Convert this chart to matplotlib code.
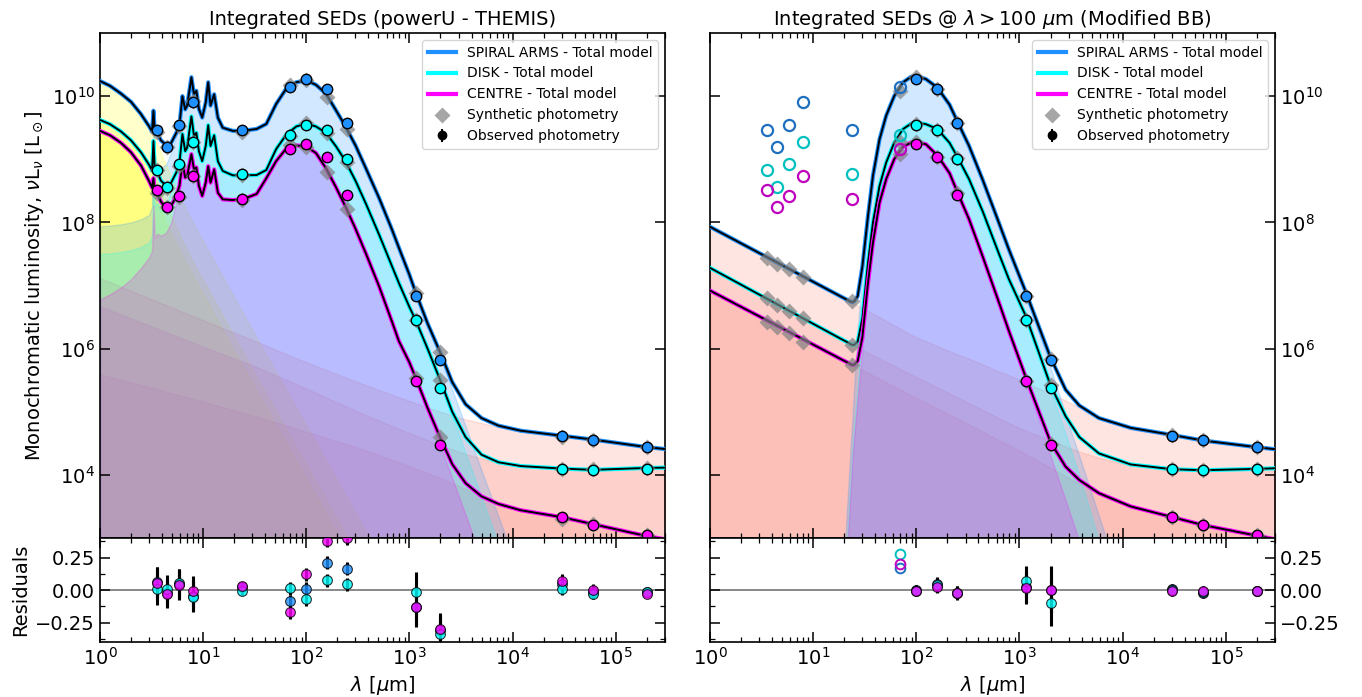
import numpy as np
import matplotlib.pyplot as plt
from matplotlib.lines import Line2D
from matplotlib.ticker import LogLocator, NullLocator, NullFormatter, AutoMinorLocator

# region colours
C_ARMS, C_DISK, C_CENTRE = "dodgerblue", "cyan", "magenta"
OPEN_ARMS, OPEN_DISK, OPEN_CENTRE = "#1f6fc0", "c", "m"

# ---------------- photometry (all luminosities are log10(nuL_nu / Lsun)) ----------------
phot_lam = [3.6, 4.5, 5.8, 8.0, 24, 70, 100, 160, 250, 1150, 2000, 3e4, 6e4, 2e5]
phot_err = [0.12, 0.11, 0.11, 0.12, 0.03, 0.05, 0.05, 0.05, 0.05, 0.15, 0.12, 0.05, 0.04, 0.02]

obs_arms = [9.46, 9.20, 9.55, 9.91, 9.46, 10.14, 10.27, 10.12, 9.57, 6.84, 5.82, 4.62, 4.55, 4.44]
obs_disk = [8.83, 8.56, 8.93, 9.27, 8.76, 9.39, 9.55, 9.46, 9.01, 6.46, 5.38, 4.09, 4.07, 4.10]
obs_centre = [8.51, 8.24, 8.42, 8.74, 8.37, 9.17, 9.25, 9.03, 8.44, 5.49, 4.48, 3.33, 3.21, 3.04]

syn_arms_l = [9.43, 9.19, 9.52, 9.93, 9.44, 10.17, 10.25, 9.99, 9.48, 6.88, 5.94, 4.60, 4.56, 4.44]
syn_disk_l = [8.83, 8.55, 8.90, 9.28, 8.75, 9.37, 9.575, 9.41, 8.96, 6.46, 5.50, 4.10, 4.09, 4.11]
syn_centre_l = [8.47, 8.24, 8.40, 8.735, 8.35, 9.22, 9.19, 8.80, 8.22, 5.54, 4.60, 3.30, 3.22, 3.04]

syn_arms_r = [7.43, 7.34, 7.26, 7.14, 6.75, 10.08, 10.30, 10.12, 9.58, 6.84, 5.84, 4.63, 4.55, 4.44]
syn_disk_r = [6.80, 6.69, 6.60, 6.49, 6.06, 9.27, 9.56, 9.47, 9.02, 6.46, 5.42, 4.09, 4.07, 4.10]
syn_centre_r = [6.43, 6.34, 6.25, 6.11, 5.74, 9.08, 9.27, 9.03, 8.46, 5.49, 4.49, 3.33, 3.21, 3.04]

# residuals, powerU - THEMIS fit (all bands)
res_arms_l = [0.06, -0.02, 0.05, -0.045, 0.02, -0.086, 0.008, 0.209, 0.163, -0.13, -0.31, 0.05, -0.015, -0.015]
res_disk_l = [0.008, 0.008, 0.053, -0.053, -0.005, 0.013, -0.072, 0.075, 0.043, -0.013, -0.34, 0.008, -0.032, -0.013]
res_centre_l = [0.056, -0.03, 0.035, -0.01, 0.03, -0.17, 0.12, 0.38, 0.40, -0.134, -0.30, 0.07, 0.003, -0.027]

# residuals, modified BB fit (70 micron and longer; 70 micron not fitted)
res_arms_r = [0.166, 0.0, 0.047, -0.025, 0.02, 0.0, 0.01, -0.02, -0.01]
res_disk_r = [0.276, -0.005, 0.04, -0.02, 0.068, -0.10, 0.0, -0.015, -0.008]
res_centre_r = [0.197, -0.005, 0.026, -0.02, 0.016, 0.003, -0.005, -0.01, -0.008]
err_r = [0.04, 0.05, 0.05, 0.12, 0.18, 0.04, 0.04, 0.02]

# ---------------- powerU - THEMIS model curves ----------------
lam_l = [1, 1.25, 1.6, 2, 2.5, 3, 3.2, 3.3, 3.4, 3.6, 3.9, 4.4, 4.9, 5.5, 5.9, 6.3, 6.7, 7.0, 7.7, 8.15,
         8.6, 9.1, 9.8, 10.6, 11.2, 11.8, 12.8, 13.9, 15.5, 19.4, 24, 33, 41, 51, 64, 80, 100, 124, 155, 195,
         240, 300, 380, 510, 680, 790, 1000, 1150, 1500, 2000, 2600, 3500, 5000, 7300, 12000, 30000, 60000,
         200000, 300000]

arms_total_l = [10.24, 10.164, 10.04, 9.91, 9.715, 9.52, 9.44, 9.77, 9.45, 9.41, 9.30, 9.22, 9.26, 9.42, 9.55,
                10.0, 9.79, 9.85, 10.30, 10.03, 10.085, 9.80, 9.66, 9.90, 10.22, 9.85, 10.03, 9.66, 9.50, 9.45,
                9.45, 9.48, 9.56, 9.875, 10.12, 10.22, 10.25, 10.18, 10.04, 9.77, 9.52, 9.22, 8.85, 8.38, 7.88,
                7.60, 7.17, 6.89, 6.40, 5.93, 5.47, 5.12, 4.90, 4.78, 4.70, 4.62, 4.56, 4.44, 4.41]
disk_total_l = [9.624, 9.556, 9.44, 9.30, 9.11, 8.91, 8.82, 9.29, 8.84, 8.80, 8.66, 8.58, 8.63, 8.79, 8.95,
                9.40, 9.13, 9.185, 9.68, 9.37, 9.42, 9.13, 8.97, 9.21, 9.54, 9.21, 9.38, 8.97, 8.815, 8.746,
                8.746, 8.75, 8.83, 9.16, 9.39, 9.52, 9.565, 9.52, 9.42, 9.20, 8.97, 8.66, 8.29, 7.80, 7.30,
                7.04, 6.66, 6.45, 6.00, 5.49, 5.00, 4.60, 4.32, 4.20, 4.14, 4.10, 4.08, 4.11, 4.115]
centre_total_l = [9.45, 9.381, 9.26, 9.11, 8.90, 8.65, 8.55, 8.70, 8.48, 8.45, 8.33, 8.21, 8.26, 8.42, 8.58,
                  8.95, 8.71, 8.735, 9.08, 8.84, 8.87, 8.58, 8.42, 8.63, 8.89, 8.63, 8.84, 8.47, 8.365, 8.354,
                  8.365, 8.45, 8.70, 8.97, 9.17, 9.22, 9.20, 9.10, 8.86, 8.55, 8.25, 7.90, 7.50, 6.98, 6.42,
                  6.12, 5.78, 5.54, 5.06, 4.58, 4.17, 3.87, 3.66, 3.54, 3.44, 3.33, 3.22, 3.03, 2.98]

# stellar component (values of 1 lie far below the plotted range)
arms_star_l = [10.24, 10.164, 10.04, 9.91, 9.715, 9.50, 9.42, 9.38, 9.33, 9.24, 9.10, 8.90, 8.72, 8.54, 8.43,
               8.33, 8.24, 8.17, 8.04, 7.96, 7.90, 7.82, 7.73, 7.63, 7.56, 7.49, 7.38, 7.28, 7.14, 6.85, 6.58,
               6.17, 5.90, 5.63, 5.34, 5.06, 4.78, 4.51, 4.23, 3.94, 3.68, 3.40, 3.10, 2.73, 2.37, 2.18,
               1, 1, 1, 1, 1, 1, 1, 1, 1, 1, 1, 1, 1]
disk_star_l = [9.624, 9.556, 9.44, 9.30, 9.10, 8.88, 8.80, 8.76, 8.71, 8.62, 8.48, 8.28, 8.10, 7.92, 7.81,
               7.71, 7.62, 7.55, 7.42, 7.34, 7.28, 7.20, 7.11, 7.01, 6.94, 6.87, 6.76, 6.66, 6.52, 6.23, 5.96,
               5.55, 5.28, 5.01, 4.72, 4.44, 4.16, 3.89, 3.61, 3.32, 3.06, 2.78, 2.48, 1, 1, 1,
               1, 1, 1, 1, 1, 1, 1, 1, 1, 1, 1, 1, 1]
centre_star_l = [9.45, 9.38, 9.26, 9.10, 8.89, 8.64, 8.53, 8.50, 8.40, 8.33, 8.18, 7.98, 7.82, 7.66, 7.56,
                 7.47, 7.39, 7.33, 7.20, 7.12, 7.06, 6.98, 6.89, 6.79, 6.72, 6.65, 6.54, 6.44, 6.30, 6.01, 5.74,
                 5.33, 5.06, 4.79, 4.50, 4.22, 3.94, 3.67, 3.39, 3.10, 2.84, 1, 1, 1, 1, 1,
                 1, 1, 1, 1, 1, 1, 1, 1, 1, 1, 1, 1, 1]

# THEMIS dust component
arms_dust_l = [7.94, 7.95, 7.97, 8.00, 8.05, 8.12, 8.25, 9.55, 8.82, 8.92, 8.87, 8.92, 9.12, 9.36, 9.52,
               10.0, 9.79, 9.85, 10.30, 10.03, 10.085, 9.80, 9.66, 9.90, 10.22, 9.85, 10.03, 9.66, 9.50, 9.45,
               9.45, 9.48, 9.56, 9.875, 10.12, 10.22, 10.25, 10.18, 10.04, 9.77, 9.52, 9.22, 8.85, 8.38, 7.88,
               7.60, 7.16, 6.88, 6.38, 5.87, 5.35, 4.77, 4.07, 3.34, 2.37, 1, 1, 1, 1]
disk_dust_l = [7.50, 7.51, 7.53, 7.56, 7.61, 7.68, 7.80, 9.14, 8.25, 8.31, 8.17, 8.28, 8.49, 8.73, 8.92,
               9.40, 9.13, 9.185, 9.68, 9.37, 9.42, 9.13, 8.97, 9.21, 9.54, 9.21, 9.38, 8.97, 8.815, 8.746,
               8.746, 8.75, 8.83, 9.16, 9.39, 9.52, 9.565, 9.52, 9.42, 9.20, 8.97, 8.66, 8.29, 7.80, 7.30,
               7.04, 6.65, 6.44, 5.97, 5.45, 4.93, 4.35, 3.65, 2.91, 1, 1, 1, 1, 1]
centre_dust_l = [6.78, 6.86, 6.97, 7.10, 7.28, 7.45, 7.55, 8.27, 7.75, 7.82, 7.79, 7.84, 8.00, 8.32, 8.52,
                 8.95, 8.71, 8.735, 9.08, 8.84, 8.87, 8.58, 8.42, 8.63, 8.89, 8.63, 8.84, 8.47, 8.365, 8.354,
                 8.365, 8.45, 8.70, 8.97, 9.17, 9.22, 9.20, 9.10, 8.86, 8.55, 8.25, 7.90, 7.50, 6.98, 6.42,
                 6.12, 5.76, 5.52, 5.00, 4.46, 3.95, 3.37, 2.67, 1, 1, 1, 1, 1, 1]

# free-free + synchrotron component
lam_radio = [1, 3.2, 10, 32, 85, 316, 790, 2000, 3500, 7300, 12000, 30000, 60000, 200000, 300000]
arms_radio = [7.12, 6.78, 6.45, 6.12, 5.83, 5.47, 5.23, 5.00, 4.88, 4.76, 4.69, 4.62, 4.56, 4.44, 4.41]
disk_radio = [6.67, 6.35, 6.03, 5.72, 5.42, 5.00, 4.73, 4.47, 4.33, 4.19, 4.14, 4.10, 4.08, 4.11, 4.115]
centre_radio = [5.59, 5.38, 5.16, 4.93, 4.72, 4.43, 4.20, 3.95, 3.78, 3.53, 3.44, 3.33, 3.22, 3.03, 2.98]

# ---------------- modified BB + power law model curves ----------------
lam_r = [1, 3, 10, 19, 21, 23, 24, 25, 27, 30, 34, 38, 44, 51, 61, 74, 89, 100, 124, 160, 210, 250, 325,
         440, 630, 790, 1150, 2000, 2800, 3800, 5900, 12000, 30000, 60000, 200000, 300000]

arms_total_r = [7.93, 7.515, 7.06, 6.817, 6.78, 6.745, 6.735, 6.75, 6.83, 7.30, 8.10, 8.74, 9.317, 9.69, 10.0,
                10.217, 10.307, 10.32, 10.27, 10.135, 9.865, 9.60, 9.21, 8.675, 8.0, 7.57, 6.90, 5.86, 5.35,
                5.10, 4.90, 4.745, 4.634, 4.545, 4.439, 4.407]
arms_bb_r = [1, 1, 1, 2.0, 3.3, 4.4, 4.9, 5.4, 6.3, 7.2, 8.09, 8.73, 9.31, 9.685, 9.995, 10.215, 10.305, 10.32,
             10.27, 10.13, 9.86, 9.595, 9.20, 8.665, 7.985, 7.55, 6.87, 5.70, 4.95, 4.3, 3.35, 1.8, 1, 1, 1, 1]
arms_pl_r = [7.93, 7.515, 7.06, 6.817, 6.78, 6.745, 6.728, 6.712, 6.685, 6.645, 6.60, 6.555, 6.50, 6.44, 6.37,
             6.295, 6.22, 6.18, 6.12, 6.04, 5.96, 5.91, 5.84, 5.75, 5.64, 5.58, 5.46, 5.29, 5.18, 5.07, 4.89,
             4.72, 4.634, 4.545, 4.439, 4.407]

disk_total_r = [7.28, 6.857, 6.394, 6.147, 6.11, 6.073, 6.058, 6.06, 6.11, 6.48, 7.36, 8.0, 8.577, 8.947, 9.26,
                9.476, 9.566, 9.582, 9.556, 9.48, 9.26, 9.04, 8.683, 8.175, 7.51, 7.1, 6.52, 5.42, 4.93, 4.60,
                4.34, 4.165, 4.09, 4.074, 4.095, 4.105]
disk_bb_r = [1, 1, 1, 1.5, 2.8, 3.9, 4.4, 4.8, 5.4, 6.35, 7.34, 7.99, 8.575, 8.945, 9.26, 9.475, 9.565, 9.58,
             9.555, 9.475, 9.26, 9.035, 8.68, 8.17, 7.50, 7.08, 6.49, 5.33, 4.65, 4.0, 2.95, 1.4, 1, 1, 1, 1]
disk_pl_r = [7.28, 6.857, 6.394, 6.147, 6.11, 6.073, 6.058, 6.045, 6.02, 5.98, 5.935, 5.895, 5.84, 5.79, 5.725,
             5.655, 5.59, 5.55, 5.475, 5.385, 5.29, 5.23, 5.135, 5.03, 4.90, 4.82, 4.70, 4.55, 4.45, 4.37, 4.27,
             4.15, 4.09, 4.074, 4.095, 4.105]

centre_total_r = [6.92, 6.512, 6.065, 5.826, 5.79, 5.755, 5.74, 5.745, 5.80, 6.18, 7.04, 7.68, 8.312, 8.683,
                  9.0, 9.2, 9.265, 9.275, 9.238, 9.06, 8.78, 8.48, 8.048, 7.46, 6.74, 6.28, 5.55, 4.52, 4.13,
                  3.92, 3.71, 3.50, 3.333, 3.206, 3.037, 2.98]
centre_bb_r = [1, 1, 1, 1.3, 2.6, 3.7, 4.2, 4.6, 5.2, 6.0, 7.03, 7.675, 8.31, 8.68, 9.0, 9.2, 9.265, 9.275,
               9.235, 9.06, 8.78, 8.48, 8.045, 7.455, 6.73, 6.26, 5.50, 4.30, 3.6, 2.95, 1.9, 1, 1, 1, 1, 1]
centre_pl_r = [6.92, 6.512, 6.065, 5.826, 5.79, 5.755, 5.74, 5.725, 5.70, 5.66, 5.615, 5.575, 5.52, 5.465, 5.40,
               5.33, 5.26, 5.22, 5.145, 5.05, 4.955, 4.89, 4.795, 4.685, 4.55, 4.47, 4.33, 4.11, 3.98, 3.86,
               3.69, 3.49, 3.333, 3.206, 3.037, 2.98]


def L(v):
    return 10.0 ** np.asarray(v, dtype=float)


def style_x(ax):
    ax.set_xscale("log")
    ax.set_xlim(1, 3e5)
    ax.xaxis.set_major_locator(LogLocator(base=10, numticks=12))
    ax.xaxis.set_minor_locator(LogLocator(base=10, subs=np.arange(2, 10), numticks=100))
    ax.xaxis.set_minor_formatter(NullFormatter())
    ax.tick_params(which="both", direction="in", top=True, bottom=True, left=True, right=True, labelsize=14)
    ax.tick_params(which="major", length=7, width=1.1)
    ax.tick_params(which="minor", length=3.5, width=0.9)
    for s in ax.spines.values():
        s.set_linewidth(1.2)


def style_main(ax):
    style_x(ax)
    ax.set_yscale("log")
    ax.set_ylim(1e3, 1e11)
    ax.set_yticks([1e4, 1e6, 1e8, 1e10])
    ax.yaxis.set_minor_locator(NullLocator())
    ax.tick_params(labelbottom=False)


def style_res(ax):
    style_x(ax)
    ax.set_ylim(-0.4, 0.4)
    ax.set_yticks([-0.25, 0.0, 0.25])
    ax.yaxis.set_minor_locator(AutoMinorLocator(2))
    ax.set_xlabel(r"$\lambda$ [$\mu$m]", fontsize=14)
    ax.axhline(0, color="gray", lw=1.3, zorder=1)


def fill(ax, lam, y, color):
    ax.fill_between(lam, 1, L(y), color=color, alpha=0.2, zorder=1)


def total_line(ax, lam, y, color):
    ax.plot(lam, L(y), color=color, lw=3.0, zorder=3, solid_capstyle="round")
    ax.plot(lam, L(y), color="k", lw=1.4, zorder=3)


def add_legend(ax):
    h = [Line2D([], [], color=C_ARMS, lw=3, label="SPIRAL ARMS - Total model"),
         Line2D([], [], color=C_DISK, lw=3, label="DISK - Total model"),
         Line2D([], [], color=C_CENTRE, lw=3, label="CENTRE - Total model"),
         Line2D([], [], marker="D", ls="none", color="gray", alpha=0.7, ms=8, mec="none",
                label="Synthetic photometry")]
    eb = ax.errorbar([np.nan], [np.nan], yerr=[1.0], fmt="o", color="k", ms=6, label="Observed photometry")
    h.append(eb)
    ax.legend(handles=h, loc="upper right", fontsize=10)


fig = plt.figure(figsize=(13.62, 6.97), dpi=100)
axL = fig.add_axes([0.0734, 0.2281, 0.4148, 0.7245])
resL = fig.add_axes([0.0734, 0.0789, 0.4148, 0.1492])
axR = fig.add_axes([0.5213, 0.2281, 0.4148, 0.7245])
resR = fig.add_axes([0.5213, 0.0789, 0.4148, 0.1492])

regions = [(C_ARMS, OPEN_ARMS), (C_DISK, OPEN_DISK), (C_CENTRE, OPEN_CENTRE)]
obs_all = [obs_arms, obs_disk, obs_centre]

# ---- left: powerU - THEMIS ----
for y in (arms_star_l, disk_star_l, centre_star_l):
    fill(axL, lam_l, y, "yellow")
for y in (arms_radio, disk_radio, centre_radio):
    fill(axL, lam_radio, y, "salmon")
for y, (c, _) in zip((arms_dust_l, disk_dust_l, centre_dust_l), regions):
    fill(axL, lam_l, y, c)
for y, (c, _) in zip((arms_total_l, disk_total_l, centre_total_l), regions):
    total_line(axL, lam_l, y, c)
for obs, syn, (c, _) in zip(obs_all, (syn_arms_l, syn_disk_l, syn_centre_l), regions):
    axL.plot(phot_lam, L(syn), "D", color="gray", alpha=0.7, ms=8, mec="none", zorder=4)
    axL.errorbar(phot_lam, L(obs), yerr=L(obs) * np.array(phot_err), fmt="o", mfc=c, mec="k", mew=1.0,
                 ms=7.5, ecolor="k", elinewidth=1.2, zorder=5)
style_main(axL)
axL.set_ylabel(r"Monochromatic luminosity, $\nu$L$_\nu$ [L$_\odot$]", fontsize=14)
axL.set_title("Integrated SEDs (powerU - THEMIS)", fontsize=14)
add_legend(axL)

# ---- right: modified black body ----
for y in (arms_pl_r, disk_pl_r, centre_pl_r):
    fill(axR, lam_r, y, "salmon")
for y, (c, _) in zip((arms_bb_r, disk_bb_r, centre_bb_r), regions):
    fill(axR, lam_r, y, c)
for y, (c, _) in zip((arms_total_r, disk_total_r, centre_total_r), regions):
    total_line(axR, lam_r, y, c)
for obs, syn, (c, oc) in zip(obs_all, (syn_arms_r, syn_disk_r, syn_centre_r), regions):
    axR.plot(phot_lam, L(syn), "D", color="gray", alpha=0.7, ms=8, mec="none", zorder=4)
    axR.plot(phot_lam[:6], L(obs[:6]), "o", mfc="none", mec=oc, mew=1.6, ms=8, zorder=5)
    axR.errorbar(phot_lam[6:], L(obs[6:]), yerr=L(obs[6:]) * np.array(phot_err[6:]), fmt="o", mfc=c,
                 mec="k", mew=1.0, ms=7.5, ecolor="k", elinewidth=1.2, zorder=5)
style_main(axR)
axR.tick_params(labelleft=False, labelright=True)
axR.set_title(r"Integrated SEDs @ $\lambda > 100\ \mu$m (Modified BB)", fontsize=14)
add_legend(axR)

# ---- residuals ----
style_res(resL)
for res in (res_arms_l, res_disk_l, res_centre_l):
    resL.errorbar(phot_lam, res, yerr=phot_err, fmt="none", ecolor="k", elinewidth=2.2, zorder=2)
for res, (c, _) in zip((res_arms_l, res_disk_l, res_centre_l), regions):
    resL.plot(phot_lam, res, "o", color=c, mec="k", mew=0.8, ms=7, alpha=0.8, zorder=3)
resL.set_ylabel("Residuals", fontsize=14)

style_res(resR)
resR.tick_params(labelleft=False, labelright=True)
lam_fit = phot_lam[6:]
for res in (res_arms_r, res_disk_r, res_centre_r):
    resR.errorbar(lam_fit, res[1:], yerr=err_r, fmt="none", ecolor="k", elinewidth=2.2, zorder=2)
for res, (c, oc) in zip((res_arms_r, res_disk_r, res_centre_r), regions):
    resR.plot(phot_lam[5], res[0], "o", mfc="none", mec=oc, mew=1.4, ms=7, zorder=3)
    resR.plot(lam_fit, res[1:], "o", color=c, mec="k", mew=0.8, ms=7, alpha=0.8, zorder=3)

fig.savefig("out.png", dpi=100)
